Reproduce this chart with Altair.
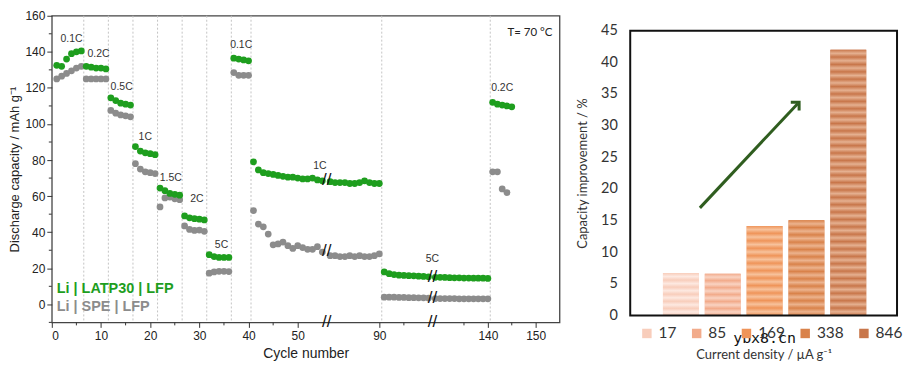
import altair as alt
import pandas as pd

# ---------------- Left panel data ----------------
cycles_a = list(range(1, 56))      # cycles 1..55
cycles_b = list(range(80, 101))    # cycles 80..100
cycles_c = list(range(129, 146))   # cycles 129..145
cycles_c_gray = list(range(129, 145))

latp_a = [132.5, 132, 136, 139, 140, 140.5,
          132, 131.5, 131, 131, 130.5,
          114.5, 113, 111.5, 111, 110.5,
          87.5, 85, 84, 83.5, 83,
          64.5, 63, 61.5, 61, 60.5,
          49, 48, 47.5, 47.2, 46.8,
          27.5, 26.5, 26, 26, 26,
          136.5, 136, 135.5, 135,
          79, 74.5, 73, 72.5, 72, 71.5, 71, 70.5, 70.5, 70, 69.5, 69.5, 70, 69, 68.5]
latp_b = [68, 67.5, 67.5, 67.5, 67, 67, 67.5, 68.5, 67.5, 67, 67,
          18, 17, 16.5, 16.2, 16, 15.9, 15.8, 15.6, 15.5, 15.3]
latp_c = [15, 15, 14.9, 14.8, 14.7, 14.7, 14.6, 14.6, 14.5, 14.5, 14.5, 14.4,
          112, 111, 110.5, 110, 109.5]

spe_a = [125, 126.5, 128, 129.5, 131, 132,
         125, 125, 125, 125, 125,
         107.5, 106, 105, 104.5, 104,
         78, 75, 73.5, 73, 72.5,
         54, 59, 59.5, 58.5, 58,
         43.5, 41.5, 41, 41.2, 40.5,
         17.3, 18, 18.3, 18.3, 18.2,
         128.5, 127, 127, 127,
         52, 44.5, 43, 39, 33, 33.5, 34.5, 32.5, 31, 32.5, 31.5, 30.5, 30.5, 32, 29]
spe_b = [27, 27, 26.5, 26.5, 27, 26.5, 27, 26.5, 26.5, 27, 28,
         4, 4, 4, 3.8, 3.8, 3.7, 3.7, 3.6, 3.6, 3.5]
spe_c = [3.2, 3.2, 3.2, 3.2, 3.2, 3.1, 3.1, 3.1, 3.1, 3.1, 3.1, 3.1,
         73.5, 73.5, 64, 62]

dividers = [6.5, 11.5, 16.5, 21.5, 26.5, 31.5, 36.5, 40.5, 90.5, 140.5]

rate_text = ["0.1C", "0.2C", "0.5C", "1C", "1.5C", "2C", "5C", "0.1C", "1C", "5C", "0.2C"]
rate_x = [4, 9.5, 14.2, 19, 24.2, 29.5, 34.5, 38.5, 54.5, 114.6, 143]
rate_y = [147, 139, 120.5, 93, 70, 58.5, 33, 144, 76.5, 25, 120]

break_x = [67.6, 67.6, 67.6, 114.6, 114.6, 114.6]
break_y = [69, 29.5, -10, 15.2, 3.4, -10]

x_ticks = [0, 10, 20, 30, 40, 50, 90, 140, 150]
x_minor = [5, 15, 25, 35, 45, 95, 135, 145]
y_ticks = [0, 20, 40, 60, 80, 100, 120, 140, 160]
y_minor = [-10, 10, 30, 50, 70, 90, 110, 130, 150]

GREEN = "#1e9e1e"
GRAY = "#8c8c8c"
FONT = "Liberation Sans"

pts = pd.concat([
    pd.DataFrame({"cycle": cycles_a + cycles_b + cycles_c_gray,
                  "cap": spe_a + spe_b + spe_c, "cell": "SPE"}),
    pd.DataFrame({"cycle": cycles_a + cycles_b + cycles_c,
                  "cap": latp_a + latp_b + latp_c, "cell": "LATP30"}),
], ignore_index=True)

W1, H1 = 510, 308
xs = alt.Scale(domain=[0, 55.6, 79.6, 100.6, 128.6, 155],
               range=[0, 274.7, 277.6, 381.3, 383.3, 510])
ys = alt.Scale(domain=[-10, 160], nice=False, zero=False)

xaxis = alt.Axis(values=x_ticks, title="Cycle number", labelFontSize=12, titleFontSize=14,
                 titleFontWeight="normal", tickSize=5, labelPadding=3, titlePadding=5,
                 grid=False, domain=False, labelColor="#222", titleColor="#222",
                 labelFont=FONT, titleFont=FONT, tickColor="#333")
yaxis = alt.Axis(values=y_ticks, title="Discharge capacity / mAh g⁻¹", labelFontSize=12,
                 titleFontSize=13, titleFontWeight="normal", tickSize=5, labelPadding=2,
                 titlePadding=3, grid=False, domain=False, labelColor="#222",
                 titleColor="#222", labelFont=FONT, titleFont=FONT, tickColor="#333")


def X1(f):
    return alt.X(f, type="quantitative", scale=xs, axis=xaxis)


def Y1(f):
    return alt.Y(f, type="quantitative", scale=ys, axis=yaxis)


div_layer = alt.Chart(pd.DataFrame({"d": dividers})).mark_rule(
    color="#c4c4c4", strokeDash=[2, 2], strokeWidth=1
).encode(x=X1("d"), y=alt.value(0), y2=alt.value(H1))

minor_x = alt.Chart(pd.DataFrame({"m": x_minor})).mark_rule(color="#333").encode(
    x=X1("m"), y=alt.value(H1), y2=alt.value(H1 + 3))

minor_y = alt.Chart(pd.DataFrame({"m": y_minor})).mark_rule(color="#333").encode(
    y=Y1("m"), x=alt.value(-3), x2=alt.value(0))

pt_layer = alt.Chart(pts).mark_circle(size=46, opacity=1).encode(
    x=X1("cycle"), y=Y1("cap"),
    color=alt.Color("cell:N", scale=alt.Scale(domain=["SPE", "LATP30"], range=[GRAY, GREEN]),
                    legend=None),
    order=alt.Order("cell:N", sort="descending"),
)

rate_layer = alt.Chart(pd.DataFrame({"t": rate_text, "x": rate_x, "y": rate_y})).mark_text(
    fontSize=10.5, font=FONT, color="#333"
).encode(x=X1("x"), y=Y1("y"), text="t:N")

brk_layer = alt.Chart(pd.DataFrame({"x": break_x, "y": break_y})).mark_text(
    text="//", fontSize=17, font=FONT, color="#111"
).encode(x=X1("x"), y=Y1("y"))

leg_text = ["Li | LATP30 | LFP", "Li | SPE | LFP"]
leg_col = [GREEN, GRAY]
leg_x = [1, 1]
leg_y = [8.5, -1.5]
leg_layer = alt.Chart(pd.DataFrame({"t": leg_text, "x": leg_x, "y": leg_y, "c": leg_col})).mark_text(
    fontSize=14.5, font=FONT, fontWeight="bold", align="left"
).encode(x=X1("x"), y=Y1("y"), text="t:N", color=alt.Color("c:N", scale=None))

temp_layer = alt.Chart(pd.DataFrame({"t": ["T= 70 °C"], "x": [153.5], "y": [150.5]})).mark_text(
    fontSize=11.5, font="Lato", color="#222", align="right"
).encode(x=X1("x"), y=Y1("y"), text="t:N")

left = alt.layer(div_layer, minor_x, minor_y, pt_layer, rate_layer, brk_layer, leg_layer,
                 temp_layer).properties(
    width=W1, height=H1, view=alt.ViewBackground(stroke="#444", strokeWidth=1.3))

# ---------------- Right panel data ----------------
densities = ["17", "85", "169", "338", "846"]
bar_pos = [1, 2, 3, 4, 5]
improvement = [6.7, 6.6, 14.15, 15.05, 42.0]
dark_colors = ["#f8cdbb", "#f2ab8b", "#ef9459", "#d9824a", "#c8764a"]
light_colors = ["#fde9e1", "#f9d3c2", "#f7c29c", "#ecb38e", "#e5b090"]
stripe_counts = [6, 6, 12, 13, 36]

arrow_x = [1.455, 3.795]
arrow_y = [17, 33.5]
wm_text = ["ybx8.cn"]

W2, TOP2, H2 = 268, 15, 301
bars_df = pd.DataFrame({"density": densities, "pos": bar_pos, "imp": improvement})
x2s = alt.Scale(domain=[-0.0909, 6.045], nice=False, zero=False)
y2s = alt.Scale(domain=[0, 45], nice=False, range=[H2, TOP2])

xaxis2 = alt.Axis(labels=False, ticks=False, domain=False, grid=False,
                  title="Current density / µA g⁻¹", titleFontSize=13,
                  titleFontWeight="normal", titleFont="Lato", titleColor="#333",
                  titlePadding=33)
yaxis2 = alt.Axis(values=[0, 5, 10, 15, 20, 25, 30, 35, 40, 45], ticks=False,
                  domain=False, grid=False, labelFontSize=14.5, labelFont="Lato",
                  labelColor="#333", labelPadding=13,
                  title="Capacity improvement / %", titleFontSize=13,
                  titleFontWeight="normal", titleFont="Lato", titleColor="#333",
                  titlePadding=11)


def X2(f):
    return alt.X(f, type="quantitative", scale=x2s, axis=xaxis2)


def Y2(f):
    return alt.Y(f, type="quantitative", scale=y2s, axis=yaxis2)


def stripes(n, dark, light):
    stops = [alt.GradientStop(offset=k / (2 * n), color=(light if k % 2 else dark))
             for k in range(2 * n + 1)]
    return alt.LinearGradient(gradient="linear", stops=stops, x1=0, x2=0, y1=0, y2=1)


bars = alt.Chart(bars_df).mark_bar(size=36).encode(
    x=X2("pos"), y=Y2("imp"),
    color=alt.Color("density:N", sort=densities,
                    scale=alt.Scale(domain=densities, range=dark_colors),
                    legend=alt.Legend(orient="none", direction="horizontal", legendX=9,
                                      legendY=311, title=None, symbolType="square",
                                      symbolSize=90, symbolStrokeWidth=0,
                                      labelFontSize=15.5, labelFont="Lato", labelColor="#333",
                                      columnPadding=12, labelOffset=4, padding=0)),
)

stripe_layers = [
    alt.Chart(bars_df).transform_filter(alt.datum.density == d).mark_bar(
        size=36, fill=stripes(n, dk, lt)
    ).encode(x=X2("pos"), y=Y2("imp"))
    for d, n, dk, lt in zip(densities, stripe_counts, dark_colors, light_colors)
]

frame = alt.Chart(bars_df.head(1)).mark_rect(filled=False, stroke="#111", strokeWidth=2).encode(
    x=alt.value(0), x2=alt.value(W2), y=alt.value(TOP2), y2=alt.value(H2))

arrow_df = pd.DataFrame({"ax": arrow_x, "ay": arrow_y})
arrow_line = alt.Chart(arrow_df).mark_line(color="#2f5d1f", strokeWidth=3).encode(
    x=X2("ax"), y=Y2("ay"))
arrow_head = alt.Chart(arrow_df.tail(1)).mark_point(
    shape="M-1,0.7L0,-0.3L1,0.7", filled=False, stroke="#2f5d1f", strokeWidth=3,
    size=140, angle=45, opacity=1
).encode(x=X2("ax"), y=Y2("ay"))

wm = alt.Chart(pd.DataFrame({"t": wm_text, "x": [3.0], "y": [-3.5]})).mark_text(
    font="DejaVu Sans Mono", fontSize=15, color="#111"
).encode(x=X2("x"), y=Y2("y"), text="t:N")

right = alt.layer(bars, *stripe_layers, frame, arrow_line, arrow_head, wm).properties(
    width=W2, height=H2, view=alt.ViewBackground(stroke=None))

chart = alt.hconcat(left, right, spacing=16).resolve_scale(color="independent").properties(
    padding={"left": 0, "top": 0, "right": 0, "bottom": 0}
).configure(background="white")

chart.save("out.html", embed_options={"renderer": "svg", "actions": False})
